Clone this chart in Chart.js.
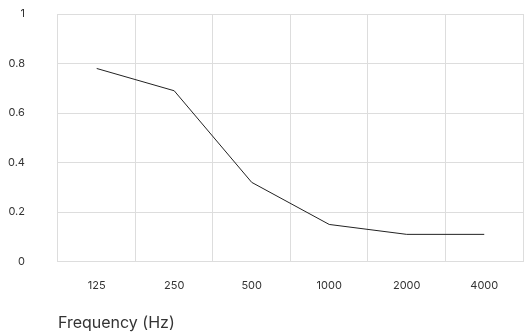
<!DOCTYPE html>
<html>
<head>
<meta charset="utf-8">
<script src="https://cdn.jsdelivr.net/npm/chart.js@4"></script>
<style>
    html, body { margin: 0; padding: 0; background: #ffffff; }
    #wrap { width: 525px; height: 334px; }
</style>
</head>
<body>
<div id="wrap"><canvas id="absorption-chart"></canvas></div>
<script>
// Frequency bands and absorption values
var frequencies = ['125', '250', '500', '1000', '2000', '4000'];
var absorption = [0.78, 0.69, 0.32, 0.15, 0.11, 0.11];
var yTicks = [0, 0.2, 0.4, 0.6, 0.8, 1];

Chart.defaults.font.family = 'Inter, "Open Sans", sans-serif';
Chart.defaults.color = '#333333';

var chart = new Chart(
    document.getElementById('absorption-chart'),
    {
        type: 'line',
        data: {
            labels: frequencies,
            datasets: [
                {
                    label: 'Absorption',
                    data: absorption,
                    borderColor: '#222222',
                    backgroundColor: '#222222',
                    borderWidth: 1,
                    tension: 0,
                    pointRadius: 0,
                    pointHoverRadius: 0
                }]
        },
        options: {
            responsive: true,
            maintainAspectRatio: false,
            animation: false,
            layout: {
                padding: { top: 14, right: 2, left: 5, bottom: 0 }
            },
            plugins: {
                legend: { display: false },
                tooltip: { enabled: false }
            },
            scales: {
                x: {
                    offset: true,
                    grid: {
                        offset: true,
                        color: '#dddddd',
                        // invisible tick marks, used only as spacing
                        tickLength: 14,
                        tickColor: 'rgba(0,0,0,0)'
                    },
                    border: { color: '#dddddd' },
                    ticks: {
                        padding: 3,
                        font: { size: 11 }
                    },
                    title: {
                        display: true,
                        text: 'Frequency (Hz)',
                        align: 'start',
                        color: '#333333',
                        font: { size: 16 },
                        padding: { top: 19, bottom: 1 }
                    }
                },
                y: {
                    min: 0,
                    max: 1,
                    afterBuildTicks: function (axis) {
                        axis.ticks = yTicks.map(function (v) { return { value: v }; });
                    },
                    grid: {
                        color: '#dddddd',
                        tickLength: 30,
                        tickColor: 'rgba(0,0,0,0)'
                    },
                    border: { display: false },
                    ticks: {
                        padding: 3,
                        font: { size: 11 },
                        callback: function (value) {
                            return String(value);
                        }
                    }
                }
            }
        }
    }
);
</script>
</body>
</html>
